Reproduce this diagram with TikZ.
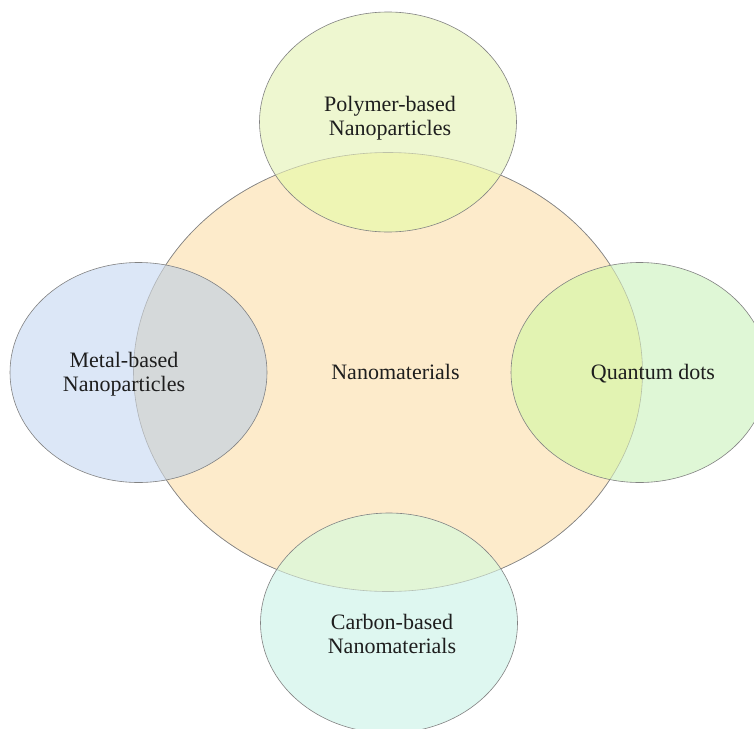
\documentclass[tikz,border=0pt]{standalone}
\usepackage{fontspec}
\setmainfont{Liberation Serif}
\definecolor{cO}{RGB}{253,235,203}
\definecolor{cT}{RGB}{238,247,208}
\definecolor{cTo}{RGB}{238,245,180}
\definecolor{cL}{RGB}{220,231,247}
\definecolor{cLo}{RGB}{213,217,218}
\definecolor{cR}{RGB}{223,247,214}
\definecolor{cRo}{RGB}{226,243,178}
\definecolor{cB}{RGB}{222,247,240}
\definecolor{cBo}{RGB}{226,245,214}
\definecolor{edgec}{RGB}{130,130,130}
\definecolor{txt}{RGB}{30,30,30}
\begin{document}
\begin{tikzpicture}[x=1pt,y=-1pt,
  lbl/.style={font=\fontsize{22}{24}\selectfont, align=center, text=txt, inner sep=0pt},
  edge/.style={draw=edgec, line width=0.6pt},
  faint/.style={draw=edgec, draw opacity=0.45, line width=0.6pt}]
\useasboundingbox (0,0) rectangle (754,728);
\fill[white] (0,0) rectangle (754,728);
\def\rx{128.5}
\def\ry{110}
% central ellipse
\path[fill=cO, edge] (388,372) ellipse [x radius=254.5, y radius=219.5];
% small ellipses: fills
\foreach \cx/\cy/\cw/\co in {388/122/cT/cTo, 138.5/372.5/cL/cLo, 639.5/372.5/cR/cRo, 389/623/cB/cBo}{
  \fill[\cw] (\cx,\cy) ellipse [x radius=\rx, y radius=\ry];
  \begin{scope}
    \clip (388,372) ellipse [x radius=254.5, y radius=219.5];
    \fill[\co] (\cx,\cy) ellipse [x radius=\rx, y radius=\ry];
  \end{scope}
}
% central outline seen through the small ellipses
\draw[faint] (388,372) ellipse [x radius=254.5, y radius=219.5];
% small ellipse outlines
\foreach \cx/\cy in {388/122, 138.5/372.5, 639.5/372.5, 389/623}{
  \draw[edge] (\cx,\cy) ellipse [x radius=\rx, y radius=\ry];
}
% labels
\node[lbl, anchor=base] (nano) at (395.5,379) {Nanomaterials};
\node[lbl] (poly) at (390,118.5) {Polymer-based\\Nanoparticles};
\node[lbl] (metal) at (124,374) {Metal-based\\Nanoparticles};
\node[lbl, anchor=base] (qd) at (653,379) {Quantum dots};
\node[lbl] (carbon) at (392,634) {Carbon-based\\Nanomaterials};
\end{tikzpicture}
\end{document}
